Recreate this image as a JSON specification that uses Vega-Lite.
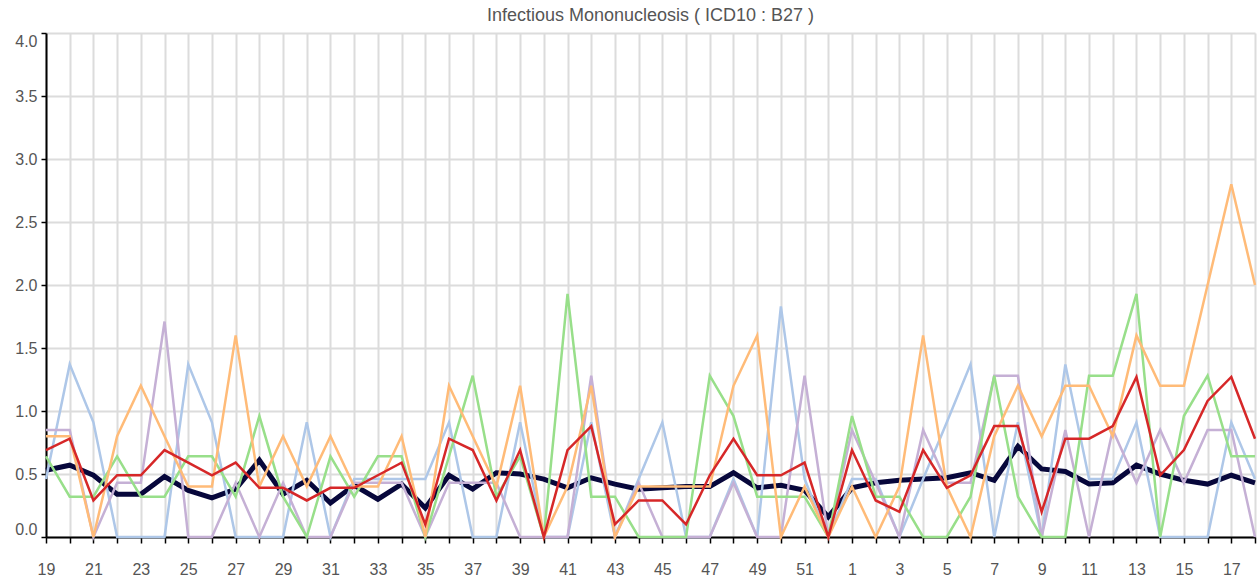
{
  "$schema": "https://vega.github.io/schema/vega-lite/v6.json",
  "width": 1209,
  "height": 504,
  "autosize": {"type": "none"},
  "padding": {"left": 46, "top": 33, "right": 2, "bottom": 44},
  "title": {"text": "Infectious Mononucleosis ( ICD10 : B27 )", "font": "Liberation Sans", "fontSize": 18, "fontWeight": "normal", "color": "#555555", "anchor": "middle", "offset": 7},
  "config": {
    "view": {"stroke": null},
    "axis": {"labelFont": "Liberation Sans", "labelFontSize": 16, "labelColor": "#555555", "gridColor": "#dcdcdc", "gridWidth": 2, "domainColor": "#000000", "domainWidth": 2, "tickColor": "#000000", "tickWidth": 1.5, "title": null}
  },
  "data": {"values": [
    {"w": "19", "mean": 0.53, "red": 0.69, "orange": 0.8, "purple": 0.85, "green": 0.64, "blue": 0.46},
    {"w": "20", "mean": 0.57, "red": 0.78, "orange": 0.8, "purple": 0.85, "green": 0.32, "blue": 1.37},
    {"w": "21", "mean": 0.49, "red": 0.29, "orange": 0, "purple": 0, "green": 0.32, "blue": 0.91},
    {"w": "22", "mean": 0.34, "red": 0.49, "orange": 0.8, "purple": 0.43, "green": 0.64, "blue": 0},
    {"w": "23", "mean": 0.34, "red": 0.49, "orange": 1.2, "purple": 0.43, "green": 0.32, "blue": 0},
    {"w": "24", "mean": 0.48, "red": 0.69, "orange": 0.8, "purple": 1.71, "green": 0.32, "blue": 0},
    {"w": "25", "mean": 0.37, "red": 0.59, "orange": 0.4, "purple": 0, "green": 0.64, "blue": 1.37},
    {"w": "26", "mean": 0.31, "red": 0.49, "orange": 0.4, "purple": 0, "green": 0.64, "blue": 0.91},
    {"w": "27", "mean": 0.38, "red": 0.59, "orange": 1.6, "purple": 0.43, "green": 0.32, "blue": 0},
    {"w": "28", "mean": 0.61, "red": 0.39, "orange": 0.4, "purple": 0, "green": 0.96, "blue": 0},
    {"w": "29", "mean": 0.34, "red": 0.39, "orange": 0.8, "purple": 0.43, "green": 0.32, "blue": 0},
    {"w": "30", "mean": 0.45, "red": 0.29, "orange": 0.4, "purple": 0, "green": 0, "blue": 0.91},
    {"w": "31", "mean": 0.27, "red": 0.39, "orange": 0.8, "purple": 0, "green": 0.64, "blue": 0},
    {"w": "32", "mean": 0.41, "red": 0.39, "orange": 0.4, "purple": 0.43, "green": 0.32, "blue": 0.46},
    {"w": "33", "mean": 0.30, "red": 0.49, "orange": 0.4, "purple": 0.43, "green": 0.64, "blue": 0.46},
    {"w": "34", "mean": 0.42, "red": 0.59, "orange": 0.8, "purple": 0.43, "green": 0.64, "blue": 0.46},
    {"w": "35", "mean": 0.23, "red": 0.1, "orange": 0, "purple": 0, "green": 0, "blue": 0.46},
    {"w": "36", "mean": 0.49, "red": 0.78, "orange": 1.2, "purple": 0.43, "green": 0.64, "blue": 0.91},
    {"w": "37", "mean": 0.38, "red": 0.69, "orange": 0.8, "purple": 0.43, "green": 1.28, "blue": 0},
    {"w": "38", "mean": 0.51, "red": 0.29, "orange": 0.4, "purple": 0.43, "green": 0.32, "blue": 0},
    {"w": "39", "mean": 0.50, "red": 0.69, "orange": 1.2, "purple": 0, "green": 0.64, "blue": 0.91},
    {"w": "40", "mean": 0.46, "red": 0, "orange": 0, "purple": 0, "green": 0, "blue": 0},
    {"w": "41", "mean": 0.39, "red": 0.69, "orange": 0.4, "purple": 0, "green": 1.93, "blue": 0},
    {"w": "42", "mean": 0.47, "red": 0.88, "orange": 1.2, "purple": 1.28, "green": 0.32, "blue": 0.91},
    {"w": "43", "mean": 0.42, "red": 0.1, "orange": 0, "purple": 0, "green": 0.32, "blue": 0},
    {"w": "44", "mean": 0.38, "red": 0.29, "orange": 0.4, "purple": 0.43, "green": 0, "blue": 0.46},
    {"w": "45", "mean": 0.39, "red": 0.29, "orange": 0.4, "purple": 0, "green": 0, "blue": 0.91},
    {"w": "46", "mean": 0.40, "red": 0.1, "orange": 0.4, "purple": 0, "green": 0, "blue": 0},
    {"w": "47", "mean": 0.40, "red": 0.49, "orange": 0.4, "purple": 0, "green": 1.28, "blue": 0},
    {"w": "48", "mean": 0.51, "red": 0.78, "orange": 1.2, "purple": 0.43, "green": 0.96, "blue": 0.46},
    {"w": "49", "mean": 0.39, "red": 0.49, "orange": 1.6, "purple": 0, "green": 0.32, "blue": 0},
    {"w": "50", "mean": 0.41, "red": 0.49, "orange": 0, "purple": 0, "green": 0.32, "blue": 1.83},
    {"w": "51", "mean": 0.37, "red": 0.59, "orange": 0.4, "purple": 1.28, "green": 0.32, "blue": 0.46},
    {"w": "52", "mean": 0.16, "red": 0, "orange": 0, "purple": 0, "green": 0, "blue": 0},
    {"w": "1", "mean": 0.39, "red": 0.69, "orange": 0.4, "purple": 0.85, "green": 0.96, "blue": 0.46},
    {"w": "2", "mean": 0.43, "red": 0.29, "orange": 0, "purple": 0.43, "green": 0.32, "blue": 0.46},
    {"w": "3", "mean": 0.45, "red": 0.2, "orange": 0.4, "purple": 0, "green": 0.32, "blue": 0},
    {"w": "4", "mean": 0.46, "red": 0.69, "orange": 1.6, "purple": 0.85, "green": 0, "blue": 0.46},
    {"w": "5", "mean": 0.47, "red": 0.39, "orange": 0.4, "purple": 0.43, "green": 0, "blue": 0.91},
    {"w": "6", "mean": 0.51, "red": 0.49, "orange": 0, "purple": 0.43, "green": 0.32, "blue": 1.37},
    {"w": "7", "mean": 0.45, "red": 0.88, "orange": 0.8, "purple": 1.28, "green": 1.28, "blue": 0},
    {"w": "8", "mean": 0.72, "red": 0.88, "orange": 1.2, "purple": 1.28, "green": 0.32, "blue": 0.91},
    {"w": "9", "mean": 0.54, "red": 0.2, "orange": 0.8, "purple": 0, "green": 0, "blue": 0},
    {"w": "10", "mean": 0.52, "red": 0.78, "orange": 1.2, "purple": 0.85, "green": 0, "blue": 1.37},
    {"w": "11", "mean": 0.42, "red": 0.78, "orange": 1.2, "purple": 0, "green": 1.28, "blue": 0.46},
    {"w": "12", "mean": 0.43, "red": 0.88, "orange": 0.8, "purple": 0.85, "green": 1.28, "blue": 0.46},
    {"w": "13", "mean": 0.57, "red": 1.27, "orange": 1.6, "purple": 0.43, "green": 1.93, "blue": 0.91},
    {"w": "14", "mean": 0.50, "red": 0.49, "orange": 1.2, "purple": 0.85, "green": 0, "blue": 0},
    {"w": "15", "mean": 0.45, "red": 0.69, "orange": 1.2, "purple": 0.43, "green": 0.96, "blue": 0},
    {"w": "16", "mean": 0.42, "red": 1.08, "orange": 2.0, "purple": 0.85, "green": 1.28, "blue": 0},
    {"w": "17", "mean": 0.49, "red": 1.27, "orange": 2.8, "purple": 0.85, "green": 0.64, "blue": 0.91},
    {"w": "18", "mean": 0.43, "red": 0.78, "orange": 2.0, "purple": 0, "green": 0.64, "blue": 0.46}
  ]},
  "encoding": {
    "x": {
      "field": "w", "type": "ordinal",
      "scale": {"type": "point", "padding": 0, "domain": ["19","20","21","22","23","24","25","26","27","28","29","30","31","32","33","34","35","36","37","38","39","40","41","42","43","44","45","46","47","48","49","50","51","52","1","2","3","4","5","6","7","8","9","10","11","12","13","14","15","16","17","18"]},
      "axis": {"grid": true, "labelAngle": 0, "tickSize": 6, "labelPadding": 18, "labelExpr": "toNumber(datum.value) % 2 == 1 ? datum.label : ''"}
    }
  },
  "layer": [
    {
      "mark": {"type": "line", "color": "#07073b", "strokeWidth": 5},
      "encoding": {
        "y": {"field": "mean", "type": "quantitative", "scale": {"domain": [0, 4], "nice": false}, "axis": {"values": [0, 0.5, 1, 1.5, 2, 2.5, 3, 3.5, 4], "format": ".1f", "labelFlush": true, "tickSize": 5, "labelPadding": 4, "grid": true}}
      }
    },
    {
      "transform": [{"fold": ["blue", "purple", "green", "orange"], "as": ["series", "value"]}],
      "mark": {"type": "line", "strokeWidth": 2.5},
      "encoding": {
        "y": {"field": "value", "type": "quantitative"},
        "color": {"field": "series", "type": "nominal", "legend": null, "scale": {"domain": ["blue", "purple", "green", "orange"], "range": ["#aec7e8", "#c5b0d5", "#98df8a", "#ffbb78"]}}
      }
    },
    {
      "mark": {"type": "line", "color": "#d62728", "strokeWidth": 2.5},
      "encoding": {
        "y": {"field": "red", "type": "quantitative"}
      }
    }
  ]
}
